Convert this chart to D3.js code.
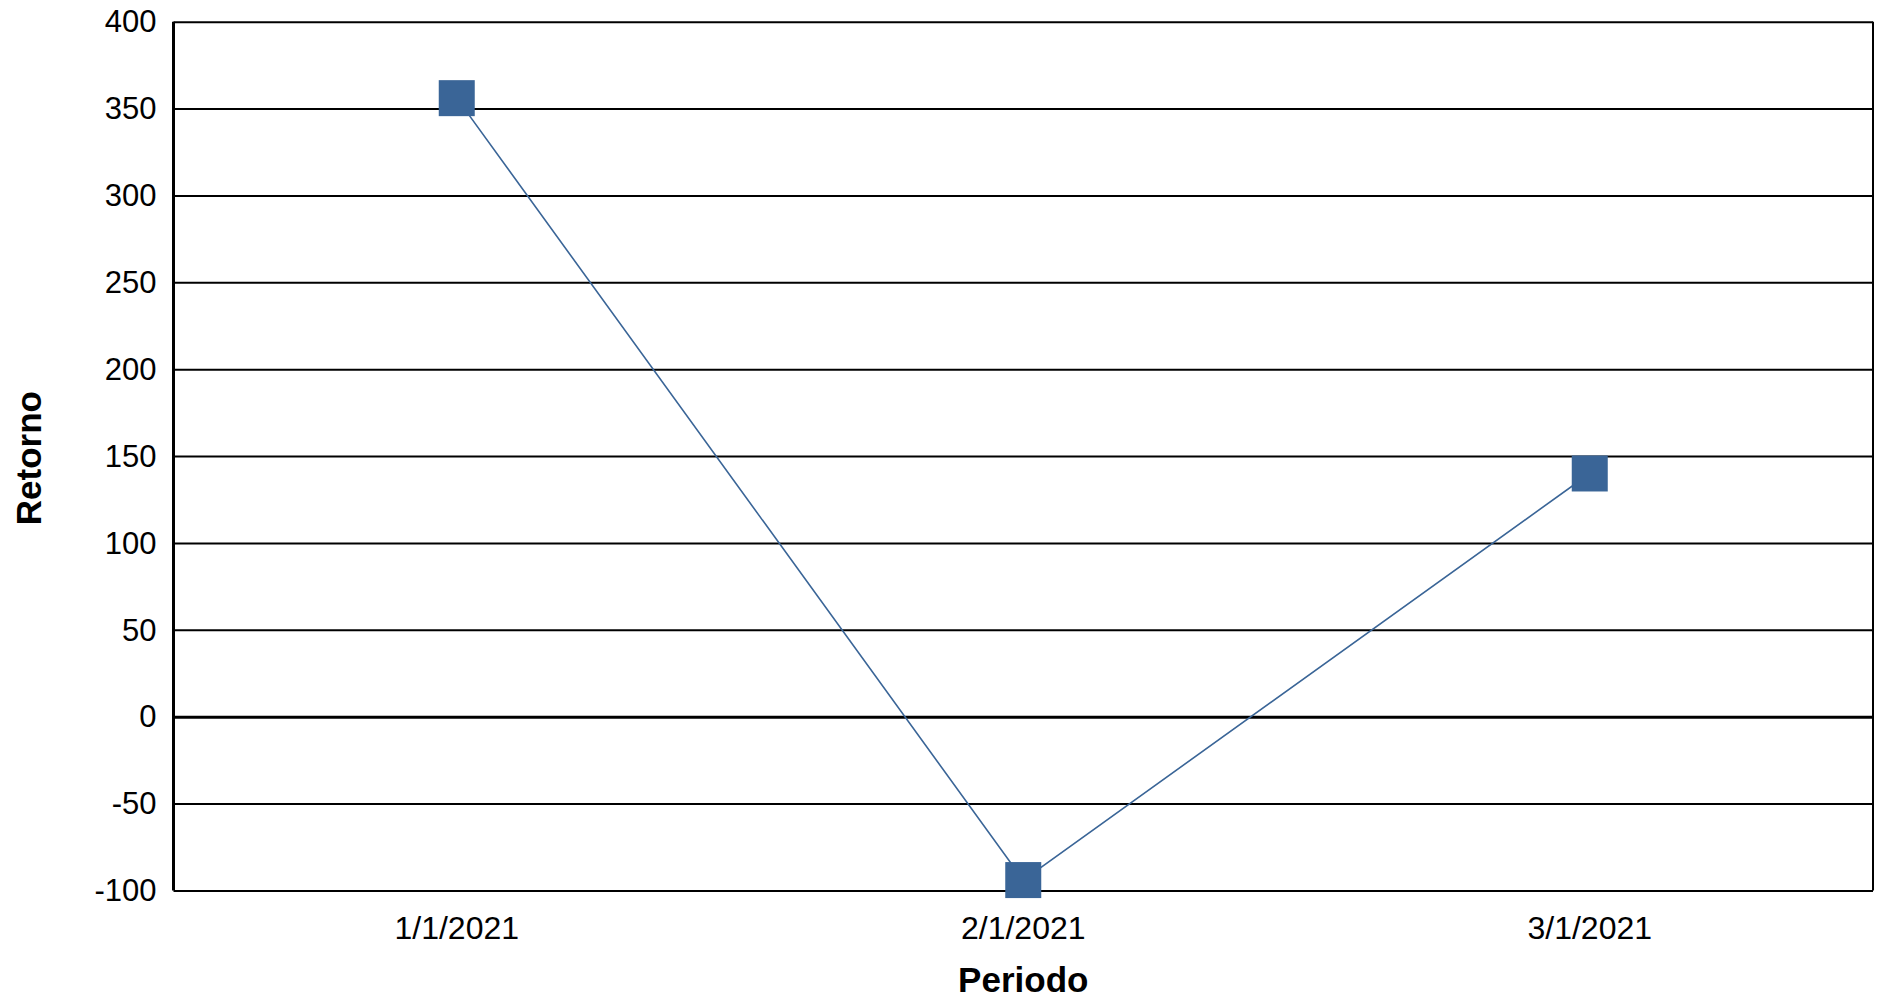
<!DOCTYPE html>
<html>
<head>
<meta charset="utf-8">
<script src="https://cdn.jsdelivr.net/npm/d3@7"></script>
<style>
  body { margin: 0; background: #fff; }
  svg { display: block; font-family: "Liberation Sans", Arial, sans-serif; }
</style>
</head>
<body>
<div id="chart"></div>
<script>
// data
const periods = ["1/1/2021", "2/1/2021", "3/1/2021"];
const retorno = [356, -94, 140];
const yTicks = [-100, -50, 0, 50, 100, 150, 200, 250, 300, 350, 400];

var margin = {top: 21.7, right: 10, bottom: 109.5, left: 173.5},
    width = 1883 - margin.left - margin.right,
    height = 1000 - margin.top - margin.bottom;

var svg = d3.select("#chart").append("svg")
    .attr("width", 1883)
    .attr("height", 1000)
    .append("g")
    .attr("transform", "translate(" + margin.left + "," + margin.top + ")");

var xScale = d3.scaleBand()
    .domain(periods)
    .range([0, width])
    .padding(0);

var yScale = d3.scaleLinear()
    .domain([-100, 400])
    .range([height, 0]);

// horizontal gridlines
var grid = svg.append("g")
    .attr("class", "y axis")
    .call(d3.axisLeft(yScale).tickValues(yTicks).tickSize(-width).tickFormat(d => String(d)));
grid.select(".domain").remove();
grid.selectAll("line")
    .attr("stroke", "#000")
    .attr("stroke-width", d => d === 0 ? 3 : 2);
grid.selectAll("text")
    .attr("x", -17)
    .attr("dy", "0.33em")
    .attr("fill", "#000")
    .style("font-size", "31px");

// frame left and right
svg.append("line")
    .attr("x1", 0).attr("x2", 0)
    .attr("y1", 0).attr("y2", height)
    .attr("stroke", "#000").attr("stroke-width", 3);
svg.append("line")
    .attr("x1", width).attr("x2", width)
    .attr("y1", 0).attr("y2", height)
    .attr("stroke", "#000").attr("stroke-width", 2);

// x axis labels
var xAxis = svg.append("g")
    .attr("class", "x axis")
    .attr("transform", "translate(0," + height + ")")
    .call(d3.axisBottom(xScale).tickSize(0));
xAxis.select(".domain").remove();
xAxis.selectAll("text")
    .attr("y", 48.5)
    .attr("dy", 0)
    .attr("fill", "#000")
    .style("font-size", "32px");

var line = d3.line()
    .x((d, i) => xScale(periods[i]) + xScale.bandwidth() / 2)
    .y(d => yScale(d));

svg.append("path")
    .datum(retorno)
    .attr("d", line)
    .attr("fill", "none")
    .attr("stroke", "#3a6597")
    .attr("stroke-width", 1.6);

var size = 36;
svg.selectAll("rect.marker")
    .data(retorno)
    .enter().append("rect")
    .attr("class", "marker")
    .attr("x", (d, i) => xScale(periods[i]) + xScale.bandwidth() / 2 - size / 2)
    .attr("y", d => yScale(d) - size / 2)
    .attr("width", size)
    .attr("height", size)
    .attr("fill", "#3a6597");

// axis titles
svg.append("text")
    .attr("x", width / 2)
    .attr("y", height + 101.5)
    .attr("text-anchor", "middle")
    .attr("font-weight", "bold")
    .style("font-size", "35px")
    .text("Periodo");

svg.append("text")
    .attr("transform", "translate(" + (41 - margin.left) + "," + (height / 2 + 2) + ") rotate(-90)")
    .attr("text-anchor", "middle")
    .attr("font-weight", "bold")
    .style("font-size", "35px")
    .text("Retorno");
</script>
</body>
</html>
